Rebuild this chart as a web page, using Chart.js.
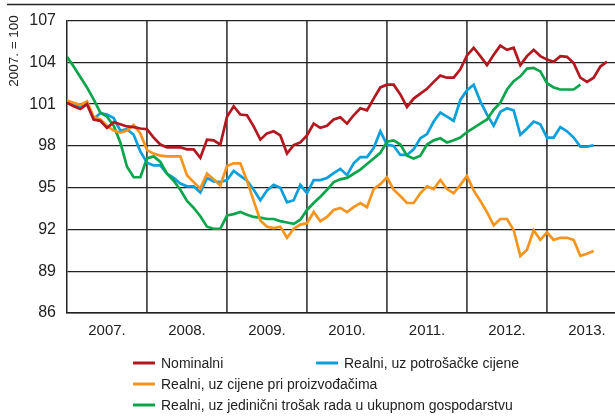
<!DOCTYPE html>
<html>
<head>
<meta charset="utf-8">
<script src="https://cdn.jsdelivr.net/npm/chart.js@4/dist/chart.umd.min.js"></script>
<style>
html,body{margin:0;padding:0;background:#fff;}
#wrap{width:615px;height:419px;position:relative;}
</style>
</head>
<body>
<div id="wrap"><canvas id="c" width="615" height="419"></canvas></div>
<script>
// ---- data (monthly, index 0 = January 2007) ----
const yearLabels = ["2007.", "2008.", "2009.", "2010.", "2011.", "2012.", "2013."];
const yAxisTitle = "2007. = 100";
const seriesNames = [
  "Nominalni",
  "Realni, uz potrošačke cijene",
  "Realni, uz cijene pri proizvođačima",
  "Realni, uz jedinični trošak rada u ukupnom gospodarstvu"
];
const nominalni = [
  101.1,100.85,100.65,101.0,99.9,99.8,99.3,99.7,99.55,99.4,99.35,99.25,
  99.2,98.6,98.1,97.9,97.9,97.9,97.75,97.75,97.15,98.45,98.4,98.1,
  100.1,100.85,100.25,100.2,99.4,98.45,98.9,99.05,98.75,97.45,98.05,98.25,
  98.75,99.6,99.3,99.45,99.9,100.05,99.6,100.2,100.7,100.55,101.4,102.2,
  102.4,102.4,101.7,100.8,101.4,101.75,102.1,102.6,103.05,102.9,102.9,103.5,
  104.5,105.05,104.45,103.8,104.55,105.2,104.9,105.05,103.8,104.45,104.9,104.45,
  104.2,104.05,104.45,104.4,103.95,102.9,102.6,102.9,103.7,104.05
];
const potrosacke = [
  101.2,100.95,100.8,101.05,99.95,100.35,100.25,100.0,99.1,99.2,98.8,97.6,
  96.8,96.6,96.6,96.0,95.7,95.3,95.1,95.1,94.65,95.7,95.45,95.4,
  95.55,96.2,95.85,95.5,94.85,94.1,94.8,95.2,95.0,93.95,94.1,95.2,
  94.6,95.55,95.55,95.7,96.05,96.35,95.9,96.75,97.2,97.2,97.85,99.05,
  98.1,98.0,97.35,97.35,97.75,98.55,98.85,99.75,100.4,100.1,99.8,101.3,
  102.0,102.4,101.2,100.25,99.45,100.45,100.7,100.55,98.8,99.25,99.75,99.55,
  98.6,98.6,99.35,99.05,98.6,97.95,97.95,98.05
];
const proizvodjaci = [
  101.25,101.1,100.95,101.2,100.1,99.9,99.45,99.1,98.95,99.1,99.5,98.9,
  97.7,97.45,97.3,97.25,97.25,97.25,95.9,95.4,94.95,96.0,95.6,95.15,
  96.55,96.75,96.75,95.5,94.05,92.65,92.2,92.1,92.2,91.4,92.05,92.35,
  92.45,93.25,92.6,92.9,93.4,93.55,93.25,93.6,93.9,93.6,94.9,95.25,
  95.75,94.85,94.4,93.9,93.9,94.6,95.1,94.9,95.55,94.9,94.6,95.2,
  95.85,94.8,94.05,93.25,92.3,92.75,92.75,91.95,90.1,90.55,91.95,91.25,
  91.8,91.25,91.4,91.4,91.25,90.1,90.25,90.45
];
const trosakRada = [
  104.4,103.7,102.95,102.2,101.35,100.4,100.1,99.45,98.25,96.5,95.75,95.75,
  97.1,97.25,96.85,96.0,95.5,94.85,94.05,93.55,92.95,92.2,92.05,92.05,
  93.0,93.1,93.25,93.05,92.9,92.85,92.75,92.75,92.6,92.5,92.4,92.7,
  93.4,93.9,94.35,94.85,95.4,95.6,95.7,96.0,96.3,96.7,97.1,97.5,
  98.3,98.4,98.1,97.3,97.1,97.3,98.1,98.4,98.55,98.25,98.4,98.6,
  99.0,99.3,99.6,99.9,100.6,101.1,102.05,102.65,103.0,103.55,103.6,103.35,
  102.5,102.2,102.05,102.05,102.05,102.4
];
const yMin = 86, yMax = 107, yStep = 3;

// ---- build chart ----
const toXY = arr => arr.map((v, i) => ({x: i, y: v}));
const colors = ["#b3171f", "#0aa0dc", "#f7941d", "#0ba64c"];
const seriesData = [nominalni, potrosacke, proizvodjaci, trosakRada];
const drawOrder = [0, 3, 1, 2];
const FONT = "'Liberation Sans',Arial,sans-serif";

const datasets = seriesData.map((arr, k) => ({
  label: seriesNames[k],
  data: toXY(arr),
  borderColor: colors[k],
  backgroundColor: colors[k],
  borderWidth: 2.7,
  pointRadius: 0,
  tension: 0,
  fill: false,
  order: drawOrder[k]
}));

const xTickValues = yearLabels.flatMap((_, k) => [k * 12, k * 12 + 6]);

const extras = {
  id: 'extras',
  afterDraw(chart) {
    const ctx = chart.ctx;
    ctx.save();
    // top rule
    ctx.strokeStyle = '#222';
    ctx.lineWidth = 1.5;
    ctx.beginPath();
    ctx.moveTo(7, 4.5);
    ctx.lineTo(615, 4.5);
    ctx.stroke();
    // y axis title
    ctx.translate(14, 51);
    ctx.rotate(-Math.PI / 2);
    ctx.fillStyle = '#222';
    ctx.font = "13.5px " + FONT;
    ctx.textAlign = 'center';
    ctx.textBaseline = 'middle';
    ctx.fillText(yAxisTitle, 0, 0);
    ctx.restore();
    // legend
    const pos = [[133, 363], [316, 363], [133, 384], [133, 405]];
    ctx.save();
    ctx.font = "14px " + FONT;
    ctx.textBaseline = 'middle';
    ctx.fillStyle = '#222';
    chart.data.datasets.forEach((ds, k) => {
      const [lx, ly] = pos[k];
      ctx.strokeStyle = ds.borderColor;
      ctx.lineWidth = 3;
      ctx.beginPath();
      ctx.moveTo(lx, ly);
      ctx.lineTo(lx + 22, ly);
      ctx.stroke();
      ctx.fillText(ds.label, lx + 28, ly + 1);
    });
    ctx.restore();
  }
};

new Chart(document.getElementById('c'), {
  type: 'line',
  data: { datasets },
  options: {
    responsive: false,
    animation: false,
    layout: { padding: { top: 19, right: 0, left: 0, bottom: 0 } },
    plugins: { legend: { display: false }, tooltip: { enabled: false } },
    scales: {
      x: {
        type: 'linear',
        min: 0,
        max: 82.2,
        afterBuildTicks: s => { s.ticks = xTickValues.map(v => ({value: v})); },
        afterFit: s => { s.height = 106; },
        grid: {
          drawTicks: false,
          color: c => (c.tick && c.tick.value % 12 === 0 && c.tick.value > 0) ? '#4a4a4a' : 'rgba(0,0,0,0)',
          lineWidth: 1.8
        },
        border: { display: true, color: '#222', width: 1.5 },
        ticks: {
          autoSkip: false,
          maxRotation: 0,
          padding: 9,
          color: '#222',
          font: { family: FONT, size: 15 },
          callback: v => (v % 12 === 6) ? yearLabels[(v - 6) / 12] : ''
        }
      },
      y: {
        min: yMin,
        max: yMax,
        afterFit: s => { s.width = 67; },
        grid: { drawTicks: false, color: '#222', lineWidth: 1.3 },
        border: { display: true, color: '#222', width: 1.5 },
        ticks: {
          stepSize: yStep,
          padding: 11,
          color: '#222',
          font: { family: FONT, size: 16 }
        }
      }
    }
  },
  plugins: [extras]
});
</script>
</body>
</html>
